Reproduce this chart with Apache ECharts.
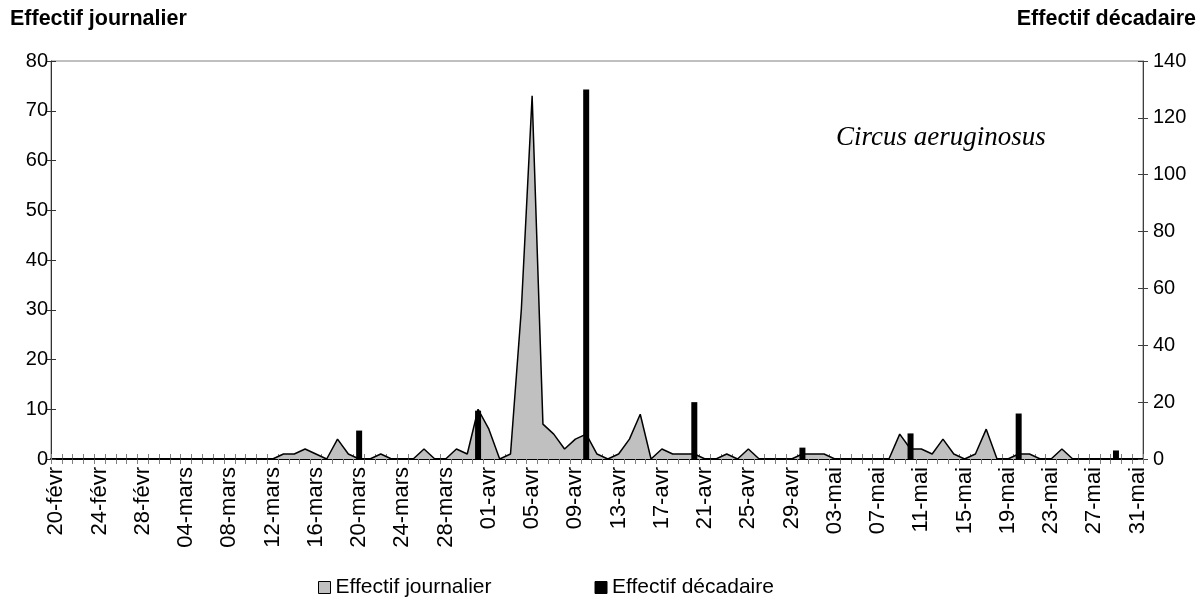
<!DOCTYPE html>
<html>
<head>
<meta charset="utf-8">
<script src="https://cdn.jsdelivr.net/npm/echarts@6/dist/echarts.min.js"></script>
<style>html,body{margin:0;padding:0;background:#fff}#c{width:1204px;height:600px}</style>
</head>
<body>
<div id="c"></div>
<script>
const categories = [
'20-févr','21-févr','22-févr','23-févr','24-févr','25-févr','26-févr','27-févr','28-févr',
'01-mars','02-mars','03-mars','04-mars','05-mars','06-mars','07-mars','08-mars','09-mars','10-mars',
'11-mars','12-mars','13-mars','14-mars','15-mars','16-mars','17-mars','18-mars','19-mars','20-mars',
'21-mars','22-mars','23-mars','24-mars','25-mars','26-mars','27-mars','28-mars','29-mars','30-mars','31-mars',
'01-avr','02-avr','03-avr','04-avr','05-avr','06-avr','07-avr','08-avr','09-avr','10-avr',
'11-avr','12-avr','13-avr','14-avr','15-avr','16-avr','17-avr','18-avr','19-avr','20-avr',
'21-avr','22-avr','23-avr','24-avr','25-avr','26-avr','27-avr','28-avr','29-avr','30-avr',
'01-mai','02-mai','03-mai','04-mai','05-mai','06-mai','07-mai','08-mai','09-mai','10-mai',
'11-mai','12-mai','13-mai','14-mai','15-mai','16-mai','17-mai','18-mai','19-mai','20-mai',
'21-mai','22-mai','23-mai','24-mai','25-mai','26-mai','27-mai','28-mai','29-mai','30-mai','31-mai'
];
// Effectif journalier (one value per day, 20-févr .. 31-mai)
const dailyValues = [
0,0,0,0,0,0,0,0,0,
0,0,0,0,0,0,0,0,0,0,
0,0,1,1,2,1,0,4,1,0,
0,1,0,0,0,2,0,0,2,1,10,
6,0,1,30,73,7,5,2,4,5,
1,0,1,4,9,0,2,1,1,1,
0,0,1,0,2,0,0,0,0,1,
1,1,0,0,0,0,0,0,5,2,
2,1,4,1,0,1,6,0,0,1,
1,0,0,2,0,0,0,0,0,0,0
];
// Effectif décadaire
const decadeDates = ['20-mars','31-mars','10-avr','20-avr','30-avr','10-mai','20-mai','29-mai'];
const decadeValues = [10, 17, 130, 20, 4, 9, 16, 3];

const leftTicks = {min: 0, max: 80, interval: 10};
const rightTicks = {min: 0, max: 140, interval: 20};

const FONT = '"Liberation Sans", Arial, sans-serif';
const chart = echarts.init(document.getElementById('c'), null, {renderer: 'canvas'});

const barData = decadeDates.map((d, i) => [d, decadeValues[i]]);

chart.setOption({
  animation: false,
  backgroundColor: '#fff',
  textStyle: {fontFamily: FONT},
  grid: {left: 51, right: 61, top: 61, bottom: 141, show: true, borderColor: '#808080', borderWidth: 1},
  graphic: [
    {type: 'text', left: 10, top: 8, style: {text: 'Effectif journalier', font: 'bold 21.5px ' + FONT, fill: '#000'}},
    {type: 'text', right: 8, top: 8, style: {text: 'Effectif décadaire', font: 'bold 21.5px ' + FONT, fill: '#000'}},
    {type: 'text', left: 836, top: 124, style: {text: 'Circus aeruginosus', font: 'italic 27px "Liberation Serif", "Times New Roman", serif', fill: '#000'}}
  ],
  legend: {
    left: 313, top: 572, itemGap: 103, itemWidth: 12, itemHeight: 12,
    textStyle: {fontSize: 21, color: '#000', fontFamily: FONT},
    data: [
      {name: 'Effectif journalier', icon: 'rect', itemStyle: {color: '#c0c0c0', borderColor: '#000', borderWidth: 1}},
      {name: 'Effectif décadaire', icon: 'rect', itemStyle: {color: '#000', borderColor: '#000', borderWidth: 1}}
    ]
  },
  xAxis: [
    {
      type: 'category', data: categories, boundaryGap: true,
      axisLine: {lineStyle: {color: '#000', width: 2}},
      axisTick: {show: true, interval: 0, length: 5, lineStyle: {color: '#808080'}},
      axisLabel: {interval: 3, rotate: 90, fontSize: 22, color: '#000', margin: 8, fontFamily: FONT},
      splitLine: {show: false}
    },
    {
      type: 'category', data: categories, boundaryGap: true, position: 'bottom',
      axisLine: {show: false},
      axisTick: {show: true, inside: true, interval: 0, length: 5, lineStyle: {color: '#808080'}},
      axisLabel: {show: false}, splitLine: {show: false}
    }
  ],
  yAxis: [
    {
      type: 'value', position: 'left', min: leftTicks.min, max: leftTicks.max, interval: leftTicks.interval,
      axisLine: {show: true, lineStyle: {color: '#333', width: 1}},
      axisTick: {show: true, length: 5, lineStyle: {color: '#333'}},
      axisLabel: {fontSize: 20, color: '#000', margin: 3, fontFamily: FONT},
      splitLine: {show: false}
    },
    {
      type: 'value', position: 'right', min: rightTicks.min, max: rightTicks.max, interval: rightTicks.interval,
      axisLine: {show: true, lineStyle: {color: '#404040', width: 1}},
      axisTick: {show: true, length: 5, lineStyle: {color: '#404040'}},
      axisLabel: {fontSize: 20, color: '#000', margin: 10, fontFamily: FONT},
      splitLine: {show: false}
    },
    {
      type: 'value', position: 'left', min: leftTicks.min, max: leftTicks.max, interval: leftTicks.interval,
      axisLine: {show: false}, axisTick: {show: true, inside: true, length: 5, lineStyle: {color: '#333'}},
      axisLabel: {show: false}, splitLine: {show: false}
    },
    {
      type: 'value', position: 'right', min: rightTicks.min, max: rightTicks.max, interval: rightTicks.interval,
      axisLine: {show: false}, axisTick: {show: true, inside: true, length: 5, lineStyle: {color: '#404040'}},
      axisLabel: {show: false}, splitLine: {show: false}
    }
  ],
  series: [
    {
      name: 'Effectif journalier', type: 'line', xAxisIndex: 0, yAxisIndex: 0,
      data: dailyValues, symbol: 'none', smooth: false,
      lineStyle: {color: '#000', width: 1.5},
      itemStyle: {color: '#c0c0c0', borderColor: '#000'},
      areaStyle: {color: '#c0c0c0', opacity: 1},
      z: 2
    },
    {
      name: 'Effectif décadaire', type: 'bar', xAxisIndex: 0, yAxisIndex: 1,
      data: barData, barWidth: 6,
      itemStyle: {color: '#000'},
      z: 3
    }
  ]
});
</script>
</body>
</html>
